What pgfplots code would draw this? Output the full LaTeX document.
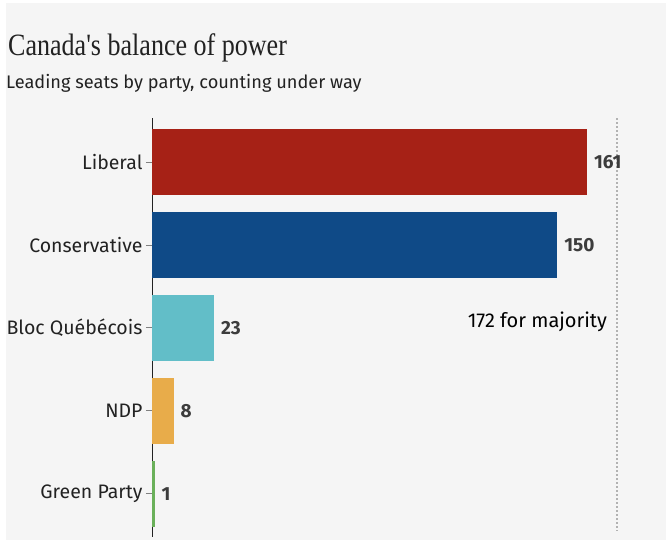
\documentclass[border=0pt]{standalone}
\usepackage{pgfplots}
\pgfplotsset{compat=1.18}
\usepackage{fontspec}
\setmainfont{Fira Sans}
\newfontfamily\titlefont{Liberation Serif}
\definecolor{bg}{HTML}{F5F5F5}
\definecolor{lib}{HTML}{A62116}
\definecolor{con}{HTML}{0F4A87}
\definecolor{bloc}{HTML}{62BEC8}
\definecolor{ndp}{HTML}{E8AC4A}
\definecolor{grn}{HTML}{6AB05A}
\definecolor{txt}{HTML}{222222}
\definecolor{val}{HTML}{3C3C3C}
\begin{document}
\begin{tikzpicture}
\useasboundingbox (0,0) rectangle (666pt,-547pt);
\fill[white] (0,0) rectangle (666pt,-547pt);
\fill[bg] (6pt,-3pt) rectangle (666pt,-540pt);
\node[anchor=base west, inner sep=0, text=txt, font=\titlefont\fontsize{31}{34}\selectfont] at (8pt,-55pt) {\scalebox{0.84}[1]{Canada's balance of power}};
\node[anchor=base west, inner sep=0, text=txt, font=\fontsize{18.2}{22}\selectfont] at (6pt,-88pt) {Leading seats by party, counting under way};
\begin{axis}[
  at={(152pt,-118pt)}, anchor=north west,
  scale only axis, width=486.4pt, height=419pt,
  xbar, bar width=66pt, bar shift=0pt,
  xmin=0, xmax=180, ymin=-0.53, ymax=4.52, y dir=reverse,
  enlargelimits=false, clip=false,
  axis x line=none, axis y line=left,
  y axis line style={-, draw=txt, line width=0.9pt},
  ytick={0,1,2,3,4},
  yticklabels={Liberal,Conservative,Bloc Québécois,NDP,Green Party},
  yticklabel style={font=\fontsize{19.5}{22}\selectfont, text=txt},
  ytick style={draw=gray, line width=0.9pt},
  tick align=outside, major tick length=6pt,
  /pgf/number format/assume math mode=true,
  every node near coord/.append style={font=\bfseries\fontsize{19}{22}\selectfont, text=val, xshift=3.5pt},
  nodes near coords,
  point meta=x,
]
\addplot[fill=lib, draw=none, bar shift=0pt] coordinates {(161,0)};
\addplot[fill=con, draw=none, bar shift=0pt] coordinates {(150,1)};
\addplot[fill=bloc, draw=none, bar shift=0pt] coordinates {(23,2)};
\addplot[fill=ndp, draw=none, bar shift=0pt] coordinates {(8,3)};
\addplot[fill=grn, draw=none, bar shift=0pt] coordinates {(1,4)};
\draw[draw=gray!60, line width=1.5pt, dash pattern=on 1.5pt off 2.5pt] (axis cs:172,-0.53) -- (axis cs:172,4.45);
\node[anchor=east, inner sep=0, text=black, font=\fontsize{20}{22}\selectfont] at (axis cs:168.4,1.93) {172 for majority};
\end{axis}
\end{tikzpicture}
\end{document}
